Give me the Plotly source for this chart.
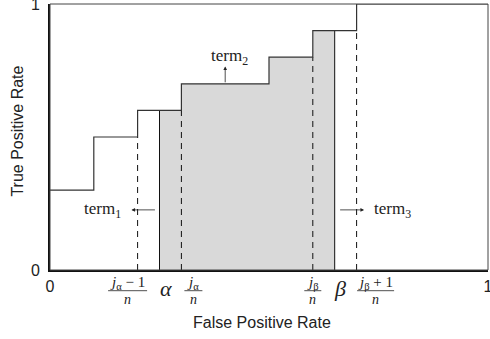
import plotly.graph_objects as go

# ---- data ----
fpr_steps = [0.0, 0.1, 0.2, 0.3, 0.5, 0.6, 0.7, 1.0]
tpr_steps = [0.3, 0.5, 0.6, 0.7, 0.8, 0.9, 1.0, 1.0]
alpha = 0.25
beta = 0.65
n = 10
j_alpha = 3
j_beta = 6
axis_ticks = [0, 1]
axis_tick_text = ["0", "1"]
x_title = "False Positive Rate"
y_title = "True Positive Rate"


def step_value(x):
    v = tpr_steps[0]
    for xs, ys in zip(fpr_steps, tpr_steps):
        if xs <= x:
            v = ys
    return v


def value_before(x):
    v = tpr_steps[0]
    for xs, ys in zip(fpr_steps, tpr_steps):
        if xs < x:
            v = ys
    return v


LINE = "#333333"
FILL = "#d9d9d9"
SERIF = "Liberation Serif"
SANS = "Liberation Sans"

fig = go.Figure()

# shaded area between alpha and beta
sx = [alpha] + [x for x in fpr_steps if alpha < x < beta] + [beta]
sy = [step_value(x) for x in sx]
fig.add_trace(go.Scatter(x=sx, y=sy, mode="lines", line=dict(shape="hv", width=0),
                         fill="tozeroy", fillcolor=FILL, hoverinfo="skip", showlegend=False))
# outline of shaded area at alpha and beta
for xv in (alpha, beta):
    fig.add_trace(go.Scatter(x=[xv, xv], y=[0, step_value(xv)], mode="lines",
                             line=dict(color="#111111", width=1), showlegend=False, hoverinfo="skip"))

# dashed guide lines
guides = [(j_alpha - 1) / n, j_alpha / n, j_beta / n, (j_beta + 1) / n]
for xv in guides:
    fig.add_trace(go.Scatter(x=[xv, xv], y=[0, value_before(xv)], mode="lines",
                             line=dict(color="#111111", width=1, dash="6px,5px"),
                             showlegend=False, hoverinfo="skip"))

# ROC step curve
fig.add_trace(go.Scatter(x=fpr_steps, y=tpr_steps, mode="lines",
                         line=dict(shape="hv", color=LINE, width=1.2),
                         showlegend=False, hoverinfo="skip", cliponaxis=False))

# frame (top/right thin)
fig.add_shape(type="rect", xref="paper", yref="paper", x0=0, x1=1, y0=0, y1=1,
              line=dict(color="#444444", width=1), layer="above")

# x-axis symbolic labels
frac_labels = [
    # (tick value, numerator, pixel xshift, bar half-width px)
    ((j_alpha - 1) / n, "<i>j</i><sub>α</sub> − 1", -10, 19.5),
    (j_alpha / n, "<i>j</i><sub>α</sub>", 12, 9),
    (j_beta / n, "<i>j</i><sub>β</sub>", 0, 8.5),
    ((j_beta + 1) / n, "<i>j</i><sub>β</sub> + 1", 19, 18.5),
]
for xv, num, dx, hw in frac_labels:
    fig.add_annotation(x=xv, xref="x", y=0, yref="paper", yshift=-13, xshift=dx,
                       text=num, showarrow=False, font=dict(family=SERIF, size=15, color="#222"),
                       yanchor="middle")
    fig.add_annotation(x=xv, xref="x", y=0, yref="paper", yshift=-29, xshift=dx,
                       text="<i>n</i>", showarrow=False, font=dict(family=SERIF, size=14, color="#222"),
                       yanchor="middle")
    fig.add_shape(type="line", xref="x", yref="paper", xsizemode="pixel", ysizemode="pixel",
                  xanchor=xv, yanchor=0, x0=dx - hw, x1=dx + hw, y0=-20.7, y1=-20.7,
                  line=dict(color="#222", width=0.8))

for xv, sym, dx in [(alpha, "α", 6), (beta, "β", 5)]:
    fig.add_annotation(x=xv, xref="x", y=0, yref="paper", yshift=-18, xshift=dx,
                       text="<i>" + sym + "</i>", showarrow=False,
                       font=dict(family=SERIF, size=22, color="#222"), yanchor="middle")

# term annotations
term_font = dict(family=SERIF, size=17, color="#222")
fig.add_annotation(x=0.41, y=0.8, text="term<sub>2</sub>", showarrow=False, font=term_font)
fig.add_annotation(x=0.4, y=0.765, ax=0.4, ay=0.7, axref="x", ayref="y", text="",
                   showarrow=True, arrowhead=2, arrowsize=0.9, arrowwidth=0.8, arrowcolor="#222")
fig.add_annotation(x=0.12, y=0.226, text="term<sub>1</sub>", showarrow=False, font=term_font)
fig.add_annotation(x=0.186, y=0.226, ax=0.243, ay=0.226, axref="x", ayref="y", text="",
                   showarrow=True, arrowhead=2, arrowsize=0.9, arrowwidth=0.8, arrowcolor="#222")
fig.add_annotation(x=0.781, y=0.226, text="term<sub>3</sub>", showarrow=False, font=term_font)
fig.add_annotation(x=0.717, y=0.226, ax=0.659, ay=0.226, axref="x", ayref="y", text="",
                   showarrow=True, arrowhead=2, arrowsize=0.9, arrowwidth=0.8, arrowcolor="#222")

# axis titles (placed as in the reference, slightly off-centre)
fig.add_annotation(x=0.485, xref="paper", y=-0.199, yref="paper", text=x_title, showarrow=False,
                   font=dict(family=SANS, size=16, color="#222"), xanchor="center", yanchor="middle")
fig.add_annotation(x=-0.075, xref="paper", y=0.521, yref="paper", text=y_title, showarrow=False,
                   textangle=-90, font=dict(family=SANS, size=16, color="#222"),
                   xanchor="center", yanchor="middle")

fig.update_layout(
    width=490, height=339,
    margin=dict(l=50, r=2, t=4, b=69, autoexpand=False),
    paper_bgcolor="white", plot_bgcolor="white",
    font=dict(family=SANS, size=16, color="#222"),
    showlegend=False,
)
fig.update_xaxes(range=[0, 1], tickvals=axis_ticks, ticktext=axis_tick_text,
                 showgrid=False, zeroline=False, showline=True, linecolor="#111", linewidth=2,
                 ticks="", ticklabelstandoff=1, automargin=False, ticklabeloverflow="allow")
fig.update_yaxes(range=[0, 1], tickvals=axis_ticks, ticktext=axis_tick_text,
                 showgrid=False, zeroline=False, showline=True, linecolor="#111", linewidth=2,
                 ticks="", ticklabelstandoff=5, automargin=False, ticklabeloverflow="allow")

fig.write_html("out.html", config={"displayModeBar": False},
               post_script="document.body.style.margin='0';document.body.style.padding='0';")
